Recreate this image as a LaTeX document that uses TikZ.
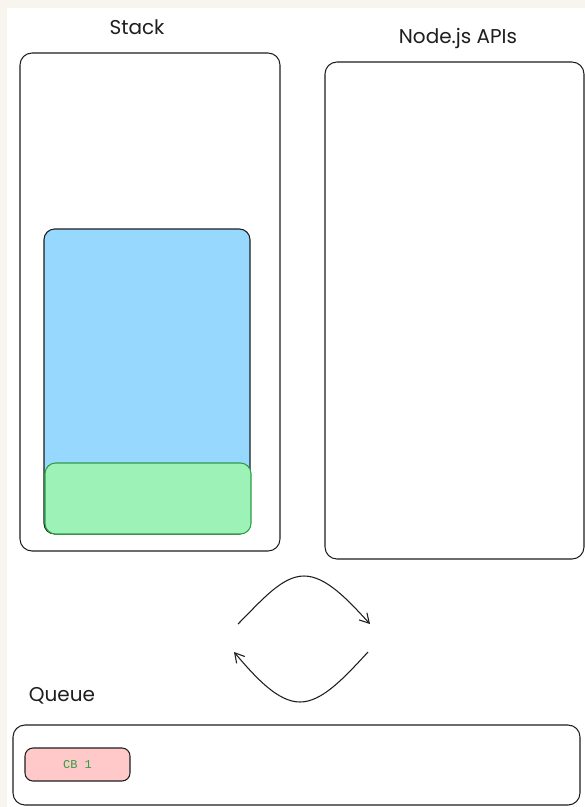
\documentclass[tikz,border=0pt]{standalone}
\usepackage{fontspec}
\setmainfont{Poppins}
\setmonofont{Liberation Mono}
\usetikzlibrary{arrows.meta}
\definecolor{paper}{HTML}{F8F4EE}
\definecolor{ink}{HTML}{1E1E1E}
\definecolor{frameblue}{HTML}{96D8FE}
\definecolor{framegreen}{HTML}{9DF3B7}
\definecolor{edgegreen}{HTML}{2F9E44}
\definecolor{cbpink}{HTML}{FFC9C9}
\begin{document}
\begin{tikzpicture}[x=0.75pt, y=-0.75pt, >={Straight Barb[length=7pt,width=8pt]},
    panel/.style={draw=ink, line width=0.8pt, rounded corners=9pt},
    title/.style={text=ink, font=\fontsize{15}{18}\selectfont},
    cbbox/.style={draw=ink, fill=cbpink, line width=0.8pt, rounded corners=6pt,
        minimum width=78.75pt, minimum height=24.75pt, inner sep=0pt,
        text=edgegreen, font=\ttfamily\fontsize{9}{11}\selectfont}]
    % 1. Hintergrund
    \fill[paper] (0,0) rectangle (585,807);
    \fill[white] (7,8) rectangle (585,807);
    \useasboundingbox (0,0) rectangle (585,807);

    % 2. Stack
    \node[title] (stacklabel) at (137,27) {Stack};
    \draw[panel] (20,53) rectangle (280,551);
    \draw[panel, fill=frameblue, rounded corners=8pt] (44,229) rectangle (250,534);
    \draw[panel, draw=edgegreen, fill=framegreen, rounded corners=8pt] (45,463) rectangle (251,534);

    % 3. Node.js APIs
    \node[title] (apilabel) at (458,38) {Node.js APIs};
    \draw[panel] (325,62) rectangle (584,559);

    % 4. Pfeile zwischen Stack und Queue
    \coordinate (upstart) at (238,624);
    \coordinate (uptop) at (304,576);
    \coordinate (upend) at (370,624);
    \coordinate (downstart) at (368,652);
    \coordinate (downbottom) at (300,702);
    \coordinate (downend) at (234,652);
    \draw[->, ink, line width=0.8pt] (upstart) .. controls (262,600) and (282,576) .. (uptop)
        .. controls (326,576) and (348,600) .. (upend);
    \draw[->, ink, line width=0.8pt] (downstart) .. controls (344,678) and (322,702) .. (downbottom)
        .. controls (278,702) and (256,678) .. (downend);

    % 5. Queue
    \node[title] (queuelabel) at (62,696) {Queue};
    \draw[panel] (13,725) rectangle (580,805);
    \node[cbbox] (cb1) at (77.5,764.5) {CB 1};
\end{tikzpicture}
\end{document}
